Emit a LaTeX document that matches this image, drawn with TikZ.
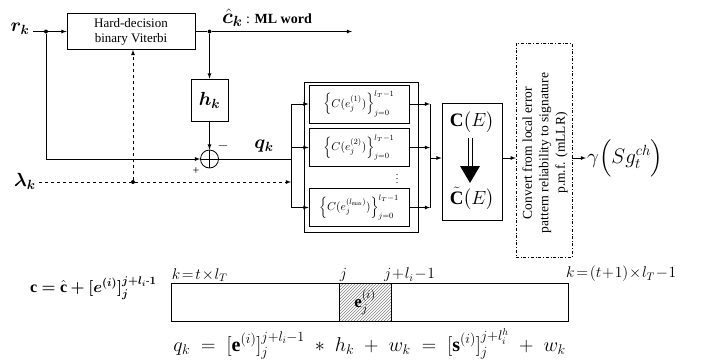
\RequirePackage{fix-cm}
\documentclass[tikz,border=0pt]{standalone}
\usepackage{fontspec}
\setmainfont{Liberation Serif}
\usepackage{amsmath,bm}
\usetikzlibrary{arrows.meta,patterns,positioning}

\begin{document}
\begin{tikzpicture}[x=1pt, y=-1pt, >=latex]
    \tikzstyle{block}=[draw, thick, inner sep=0pt]
    \tikzstyle{connector}=[thick, ->]
    \tikzstyle{dot}=[circle, fill, inner sep=0pt, minimum size=4pt]
    \tikzstyle{big}=[font=\fontsize{19}{19}\selectfont]
    \tikzstyle{marker}=[anchor=south west, inner sep=1pt,
        font=\fontsize{15.5}{15.5}\selectfont]
    \useasboundingbox (0,0) rectangle (709,360);

    % hard decision part
    \node [block, minimum width=128pt, minimum height=36pt, align=center,
        font=\fontsize{13}{15}\selectfont] (vit) at (131,31.5)
        {Hard-decision\\binary Viterbi};
    \node [big] (rk) at (20,29) {$\bm{r_k}$};
    \node [dot] (d1) at (46,31.5) {};
    \node [dot] (d2) at (209.5,31.5) {};
    \coordinate (mlend) at (352,31.5);
    \node [anchor=south west, inner sep=1pt, font=\fontsize{21}{21}\selectfont]
        (ml) at (221,28)
        {$\bm{\hat{c}_k}$\,{\fontsize{14}{14}\selectfont: \textbf{ML word}}};
    \node [block, big, minimum width=37pt, minimum height=42pt] (hk)
        at (209.5,100) {$\bm{h_k}$};
    \node [circle, draw, thick, minimum size=18pt, inner sep=0pt] (sum)
        at (209.5,159) {};
    \draw [thick] (sum.north) -- (sum.south) (sum.west) -- (sum.east);

    \draw [thick] (rk.east |- d1) -- (d1);
    \draw [connector] (d1) -- (vit.west);
    \draw [thick] (vit.east) -- (d2);
    \draw [connector] (d2) -- (mlend);
    \draw [connector] (d2) -- (hk.north);
    \draw [connector] (hk.south) -- (sum.north);
    \draw [connector] (d1) |- (sum.west);
    \node [font=\fontsize{14}{14}\selectfont] (minus) at (223,146) {$-$};
    \node [font=\fontsize{12}{12}\selectfont] (plus) at (196,171) {+};

    % reliability input
    \node [big] (lam) at (25,181) {$\bm{\lambda_k}$};
    \node [dot] (d3) at (133,182) {};
    \coordinate (lamend) at (291,182);
    \draw [thick, dashed] (lam.east |- d3) -- (d3);
    \draw [connector, dashed] (d3) -- (lamend);
    \draw [connector, dashed] (d3) -- (vit.south -| d3);

    % error pattern bank
    \coordinate (bus) at (291,159);
    \coordinate (join) at (430,158);
    \draw [thick] (sum.east) -- (bus);
    \node [big] (qk) at (264,146) {$\bm{q_k}$};
    \node [block, minimum width=114pt, minimum height=150pt] (bank)
        at (361,157) {};
    \foreach \name / \y / \lab in {1/104/(1), 2/147.5/(2), 3/207.5/(l_{\max})}
    {
        \node [block, minimum width=100pt, minimum height=38pt,
            font=\fontsize{11.5}{11.5}\selectfont] (E-\name) at (359,\y)
            {$\left\{C(e_j^{\lab})\right\}_{j=0}^{l_T-1}$};
        \draw [connector] (bus |- E-\name) -- (E-\name.west);
        \draw [connector] (E-\name.east) -- (join |- E-\name);
    }
    \draw [thick] (bus |- E-1) -- (bus |- E-3);
    \draw [thick] (join |- E-1) -- (join |- E-3);
    \node [inner sep=0pt, font=\fontsize{10}{10}\selectfont] (vdots)
        at (397,176) {$\vdots$};

    % C(E) block
    \node [block, minimum width=60pt, minimum height=117pt] (cbox)
        at (472,161.5) {};
    \node [inner sep=1pt, font=\fontsize{19}{19}\selectfont] (ce) at (472,122)
        {$\mathbf{C}\big(E\big)$};
    \node [inner sep=1pt, font=\fontsize{19}{19}\selectfont] (cte) at (472,199)
        {$\tilde{\mathbf{C}}\big(E\big)$};
    \draw [thick] (468,138) -- (468,167) (472,138) -- (472,167);
    \fill (460,166) -- (480,166) -- (470,183) -- cycle;
    \draw [connector] (join) -- (cbox.west |- join);

    % conversion
    \node [draw, dash dot, minimum width=56pt, minimum height=214pt] (conv)
        at (544,150) {};
    \node [rotate=90, align=center, font=\fontsize{13.5}{16.5}\selectfont]
        (convtext) at (545,153)
        {Convert from local error\\pattern reliability to signature\\p.m.f. (mLLR)};
    \draw [connector] (cbox.east |- join) -- (conv.west |- join);
    \node [anchor=west, inner sep=1pt, font=\fontsize{21}{21}\selectfont]
        (gam) at (586,158) {$\gamma\Big(Sg_t^{ch}\Big)$};
    \draw [connector] (conv.east |- join) -- (gam.west);

    % codeword strip
    \node [block, minimum width=397pt, minimum height=38pt] (strip)
        at (369.5,302) {};
    \node [block, pattern=north east lines, pattern color=gray,
        minimum width=52pt, minimum height=38pt,
        font=\fontsize{17}{17}\selectfont] (seg) at (365,302)
        {$\mathbf{e}_j^{(i)}$};
    \node [marker] (kstart) at (strip.north west) {$k\!=\!t\!\times\! l_T$};
    \node [marker] (jstart) at (seg.north west) {$j$};
    \node [marker] (jend) at (383,283) {$j\!+\!l_i\!-\!1$};
    \node [marker] (kend) at (565,283) {$k\!=\!(t\!+\!1)\!\times\! l_T\!-\!1$};
    \node [anchor=east, font=\fontsize{16}{16}\selectfont] (cdef) at (160,288)
        {$\bm{\mathrm{c}=\hat{\mathrm{c}}+[e^{(i)}]_j^{j+l_i\text{-}1}}$};
    \node [font=\fontsize{20}{20}\selectfont] (qdef) at (369.5,344)
        {$q_k\;=\;[\mathbf{e}^{(i)}]_j^{j+l_i-1}\;*\;h_k\;+\;w_k\;=\;[\mathbf{s}^{(i)}]_j^{j+l_i^h}\;+\;w_k$};
\end{tikzpicture}
\end{document}
